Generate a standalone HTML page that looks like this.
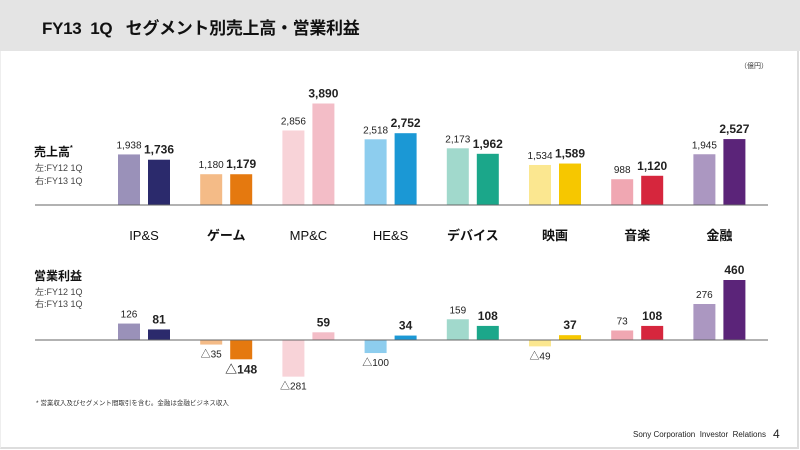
<!DOCTYPE html>
<html><head><meta charset="utf-8"><style>
body{margin:0;width:800px;height:450px;overflow:hidden;background:#fff;font-family:"Liberation Sans","Noto Sans CJK JP",sans-serif}
#hdr{position:absolute;left:0;top:0;width:800px;height:51px;background:#e4e4e4}
#title{position:absolute;left:42px;top:14px;font-size:17px;font-weight:bold;color:#111;letter-spacing:-0.3px}
#frame{position:absolute;left:0;top:51px;width:796px;height:396px;border-right:2px solid #ddd;border-bottom:2px solid #ddd;border-left:1px solid #eee}
svg{position:absolute;left:0;top:0}
</style></head><body>
<div id="hdr"></div>
<div id="title">FY13&nbsp; 1Q&nbsp;&nbsp; セグメント別売上高・営業利益</div>
<div id="frame"></div>
<svg id="chart" width="800" height="450" font-family="Liberation Sans, Noto Sans CJK JP, sans-serif">
<text x="740" y="68" font-size="7" fill="#333">（億円）</text>
<text x="34" y="156" font-size="12" font-weight="bold" fill="#111">売上高<tspan font-size="7" dy="-6">*</tspan></text>
<text x="35" y="171" font-size="9" fill="#444">左:FY12 1Q</text>
<text x="35" y="184" font-size="9" fill="#444">右:FY13 1Q</text>
<text x="34" y="280" font-size="12" font-weight="bold" fill="#111">営業利益</text>
<text x="35" y="295" font-size="9" fill="#444">左:FY12 1Q</text>
<text x="35" y="307" font-size="9" fill="#444">右:FY13 1Q</text>
<text x="36" y="405" font-size="6.5" fill="#333">* 営業収入及びセグメント間取引を含む。金融は金融ビジネス収入</text>
<text x="633" y="437" font-size="8" fill="#222">Sony Corporation&nbsp; Investor&nbsp; Relations</text>
<text x="773" y="438" font-size="12" fill="#222">4</text>
</svg>
<script>
const categories=["IP&S","ゲーム","MP&C","HE&S","デバイス","映画","音楽","金融"];
const salesPrev=[1938,1180,2856,2518,2173,1534,988,1945];
const salesCurr=[1736,1179,3890,2752,1962,1589,1120,2527];
const opPrev=[126,-35,-281,-100,159,-49,73,276];
const opCurr=[81,-148,59,34,108,37,108,460];
const colPrev=["#9a91b9","#f4bb87","#f8d3d8","#8dcdee","#a1d9cc","#fbe790","#f0a7b2","#ab97c1"];
const colCurr=["#2b2a6c","#e5790f","#f3bdc7","#1b98d5","#1ba78a","#f6c700","#d6263d","#5b2479"];
const NS="http://www.w3.org/2000/svg";
const svg=document.getElementById('chart');
const groupX=i=>144+i*82.2;
const salesBase=205, salesK=101.5/3890;
const opBase=340, opK=60/460;
const ys=v=>salesBase-v*salesK;
const yo=v=>opBase-v*opK;
function mk(t,a){const e=document.createElementNS(NS,t);for(const k in a)e.setAttribute(k,a[k]);svg.appendChild(e);return e;}
const fmt=v=>Math.abs(v).toLocaleString('en-US');
categories.forEach((c,i)=>{
  const cx=groupX(i);
  [[salesPrev,colPrev,-26,false],[salesCurr,colCurr,4,true]].forEach(([arr,col,off,b])=>{
    const v=arr[i];
    const r=mk('rect',{x:cx+off,y:ys(v),width:22,height:salesBase-ys(v),fill:col[i]});
    
    
    const t=mk('text',{x:cx+off+11,y:ys(v)-6,'text-anchor':'middle','font-size':b?12:10,'font-weight':b?'bold':'normal',fill:'#222'});
    t.textContent=fmt(v);
    
    
  });
  const l=mk('text',{x:cx,y:240,'text-anchor':'middle','font-size':13,'font-weight':categories[i].match(/[A-Z]/)?'normal':'bold',fill:'#111'});
  l.textContent=c;
  
  
  [[opPrev,colPrev,-26,false],[opCurr,colCurr,4,true]].forEach(([arr,col,off,b])=>{
    const v=arr[i];
    const y0=Math.min(yo(v),opBase), h=Math.abs(yo(v)-opBase);
    const r=mk('rect',{x:cx+off,y:y0,width:22,height:h,fill:col[i]});
    
    
    const ty=v>=0?yo(v)-6:yo(v)+(b?14:13);
    const t=mk('text',{x:cx+off+11,y:ty,'text-anchor':'middle','font-size':b?12:10,'font-weight':b?'bold':'normal',fill:'#222'});
    t.textContent=(v<0?'△':'')+fmt(v);
    
    
  });
});
const a1=mk('line',{x1:35,x2:768,y1:salesBase,y2:salesBase,stroke:'#666','stroke-width':1});


const a2=mk('line',{x1:35,x2:768,y1:opBase,y2:opBase,stroke:'#666','stroke-width':1});


</script>
</body></html>
